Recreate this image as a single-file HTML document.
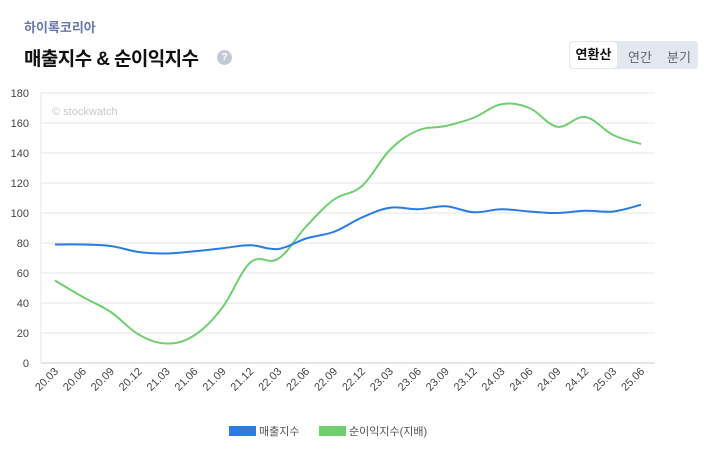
<!DOCTYPE html>
<html><head><meta charset="utf-8"><style>
body{margin:0;width:704px;height:451px;background:#fff;font-family:"Liberation Sans","Noto Sans CJK KR",sans-serif;overflow:hidden;position:relative}
.sub{position:absolute;left:24px;top:17px;font-size:13px;font-weight:bold;color:#6b76b0}
.title{position:absolute;left:24px;top:44px;font-size:19px;font-weight:bold;color:#111;letter-spacing:-0.6px}
.q{position:absolute;left:217px;top:50px;width:15px;height:15px;border-radius:50%;background:#c5c9d6;color:#fff;font-size:10px;text-align:center;line-height:15px;font-weight:bold}
.tabs{position:absolute;left:569px;top:41px;width:129px;height:28px;background:#e3e8f0;border-radius:4px}
.tabs span{position:absolute;top:6px;font-size:13px;color:#666}
.tabs .on{left:1px;top:1px;width:47px;height:26px;background:#fff;border-radius:4px;color:#111;font-weight:bold;text-align:center;line-height:26px}
</style></head><body>
<div class="sub">하이록코리아</div>
<div class="title">매출지수 &amp; 순이익지수</div>
<div class="q">?</div>
<div class="tabs"><span class="on">연환산</span><span style="left:59px">연간</span><span style="left:98px">분기</span></div>
<svg id="c" width="704" height="451" style="position:absolute;left:0;top:0"></svg>
<script>
var s='';var X0=41,X1=655,Y0=363,k=1.5;
for(var v=0;v<=180;v+=20){var y=Y0-v*k;
s+='<line x1="'+X0+'" x2="'+X1+'" y1="'+y+'" y2="'+y+'" stroke="'+(v?'#e6e6e6':'#ccc')+'"/>';
s+='<text x="29" y="'+(y+4)+'" font-size="11" fill="#444" text-anchor="end">'+v+'</text>';}
s+='<line x1="'+X0+'" x2="'+X0+'" y1="93" y2="363" stroke="#e6e6e6"/>';
s+='<text x="52" y="115" font-size="11" fill="#c8c8c8">© stockwatch</text>';
var L=['20.03','20.06','20.09','20.12','21.03','21.06','21.09','21.12','22.03','22.06','22.09','22.12','23.03','23.06','23.09','23.12','24.03','24.06','24.09','24.12','25.03','25.06'];
var dx=(X1-X0)/22;function px(i){return X0+dx*(i+0.5);}
L.forEach(function(l,i){var x=px(i)+4,y=372;s+='<text font-size="11" fill="#444" text-anchor="end" transform="translate('+x+','+y+') rotate(-45)">'+l+'</text>';});
var B=[79,79,78,74,73,74.5,76.5,78.5,76,83,87.5,97,103.5,102.5,104.5,100.5,102.5,101,100,101.5,101,105.5];
var G=[55,44,34,19,13,18.5,37,67,69.5,91,109,118,142,155,158,163.5,172.5,170,157.5,164,152,146];
function path(d){var p=d.map(function(v,i){return [px(i),Y0-v*k];});var r='M'+p[0][0]+','+p[0][1];
for(var i=0;i<p.length-1;i++){var a=p[Math.max(i-1,0)],b=p[i],c=p[i+1],e=p[Math.min(i+2,p.length-1)];var t=0.18;
r+=' C'+(b[0]+(c[0]-a[0])*t)+','+(b[1]+(c[1]-a[1])*t)+' '+(c[0]-(e[0]-b[0])*t)+','+(c[1]-(e[1]-b[1])*t)+' '+c[0]+','+c[1];}return r;}
s+='<path d="'+path(G)+'" fill="none" stroke="#6fcf6f" stroke-width="2"/>';
s+='<path d="'+path(B)+'" fill="none" stroke="#2a7be4" stroke-width="2"/>';
s+='<rect x="229" y="426" width="27" height="10" fill="#2a7be4"/><text x="259" y="435" font-size="11" fill="#555">매출지수</text>';
s+='<rect x="319" y="426" width="27" height="10" fill="#6fcf6f"/><text x="349" y="435" font-size="11" fill="#555">순이익지수(지배)</text>';
document.getElementById('c').innerHTML=s;
</script>
</body></html>
